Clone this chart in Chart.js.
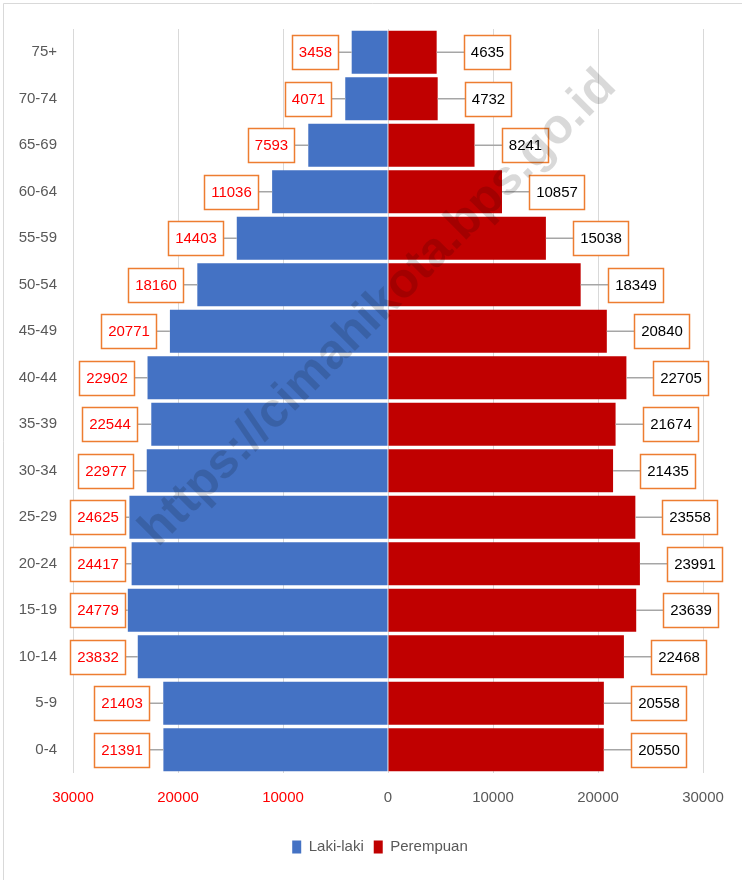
<!DOCTYPE html>
<html>
<head>
<meta charset="utf-8">
<script src="https://cdn.jsdelivr.net/npm/chart.js@4"></script>
<style>
  html, body { margin: 0; padding: 0; background: #fff; }
  #wrap { width: 742px; height: 880px; position: relative; }
</style>
</head>
<body>
<div id="wrap"><canvas id="c"></canvas></div>
<script>
const ageGroups = ['75+','70-74','65-69','60-64','55-59','50-54','45-49','40-44','35-39','30-34','25-29','20-24','15-19','10-14','5-9','0-4'];
const maleValues = [3458,4071,7593,11036,14403,18160,20771,22902,22544,22977,24625,24417,24779,23832,21403,21391];
const femaleValues = [4635,4732,8241,10857,15038,18349,20840,22705,21674,21435,23558,23991,23639,22468,20558,20550];
const xTickValues = [-30000,-20000,-10000,0,10000,20000,30000];
const seriesNames = ['Laki-laki','Perempuan'];
const watermarkText = 'https://cimahikota.bps.go.id';

const FONT = '"Liberation Sans", Arial, sans-serif';

const framePlugin = {
  id: 'frame',
  beforeDraw(chart) {
    const ctx = chart.ctx;
    ctx.save();
    ctx.fillStyle = '#fff';
    ctx.fillRect(0, 0, chart.width, chart.height);
    ctx.strokeStyle = '#D9D9D9';
    ctx.lineWidth = 1;
    ctx.beginPath();
    ctx.moveTo(3.5, 3.5); ctx.lineTo(3.5, chart.height);
    ctx.moveTo(3.5, 3.5); ctx.lineTo(chart.width, 3.5);
    ctx.stroke();
    ctx.restore();
  }
};

const labelPlugin = {
  id: 'boxLabels',
  afterDatasetsDraw(chart) {
    const ctx = chart.ctx;
    ctx.save();
    ctx.font = '15px ' + FONT;
    chart.data.datasets.forEach((ds, di) => {
      const meta = chart.getDatasetMeta(di);
      const src = di === 0 ? maleValues : femaleValues;
      meta.data.forEach((bar, i) => {
        const text = String(src[i]);
        const tw = ctx.measureText(text).width;
        const w = Math.round(tw + 13), h = 34;
        let bx;
        if (di === 0) {
          bx = bar.x - 14 - w;
          if (bx < 70) bx = 70;
        } else {
          bx = bar.x + 27;
        }
        const by = Math.round(bar.y - h / 2) + 0.5;
        bx = Math.round(bx) + 0.5;
        ctx.strokeStyle = '#A6A6A6';
        ctx.lineWidth = 1.5;
        ctx.beginPath();
        if (di === 0) { ctx.moveTo(bx + w, bar.y); ctx.lineTo(bar.x, bar.y); }
        else { ctx.moveTo(bar.x, bar.y); ctx.lineTo(bx, bar.y); }
        ctx.stroke();
        ctx.fillStyle = '#fff';
        ctx.fillRect(bx, by, w, h);
        ctx.strokeStyle = '#ED7D31';
        ctx.lineWidth = 1.5;
        ctx.strokeRect(bx, by, w, h);
        ctx.fillStyle = di === 0 ? '#FF0000' : '#000000';
        ctx.textAlign = 'center';
        ctx.textBaseline = 'middle';
        ctx.fillText(text, bx + w / 2, bar.y + 1);
      });
    });
    ctx.restore();
  },
  afterDraw(chart) {
    const ctx = chart.ctx;
    ctx.save();
    ctx.translate(388, 318);
    ctx.rotate(-Math.PI / 4);
    ctx.font = 'bold 49px ' + FONT;
    ctx.fillStyle = 'rgba(0,0,0,0.15)';
    ctx.textAlign = 'center';
    ctx.textBaseline = 'alphabetic';
    ctx.fillText(watermarkText, 0, 0);
    ctx.restore();
  }
};

new Chart(document.getElementById('c'), {
  type: 'bar',
  data: {
    labels: ageGroups,
    datasets: [
      { label: seriesNames[0], data: maleValues.map(v => -v), backgroundColor: '#4472C4', borderWidth: 0 },
      { label: seriesNames[1], data: femaleValues, backgroundColor: '#C00000', borderWidth: 0 }
    ]
  },
  options: {
    indexAxis: 'y',
    responsive: true,
    maintainAspectRatio: false,
    animation: false,
    datasets: { bar: { categoryPercentage: 1, barPercentage: 0.92 } },
    layout: { padding: { top: 29, left: 18, right: 0, bottom: 15.5 } },
    plugins: {
      legend: {
        position: 'bottom',
        labels: { boxWidth: 9, boxHeight: 13, padding: 10, color: '#595959', font: { size: 15, family: FONT } }
      },
      tooltip: { enabled: false }
    },
    scales: {
      x: {
        stacked: true,
        min: -30000, max: 30000,
        afterBuildTicks: s => { s.ticks = xTickValues.map(v => ({ value: v })); },
        afterFit: s => { s.height = 56.5; },
        grid: { color: '#D9D9D9', lineWidth: 1, drawTicks: false },
        border: { display: false },
        ticks: {
          padding: 16,
          callback: v => String(Math.abs(v)),
          color: c => (c.tick && c.tick.value < 0) ? '#FF0000' : '#595959',
          font: { size: 15, family: FONT }
        }
      },
      y: {
        stacked: true,
        afterFit: s => { s.width = 55; },
        grid: { display: false, drawTicks: false },
        border: { display: false },
        ticks: { padding: 16, color: '#595959', font: { size: 15, family: FONT } }
      },
      y2: {
        position: 'right',
        type: 'category',
        labels: ageGroups,
        afterFit: s => { s.width = 39; },
        grid: { display: false, drawTicks: false },
        border: { display: false },
        ticks: { display: false }
      }
    }
  },
  plugins: [framePlugin, labelPlugin]
});
</script>
</body>
</html>
